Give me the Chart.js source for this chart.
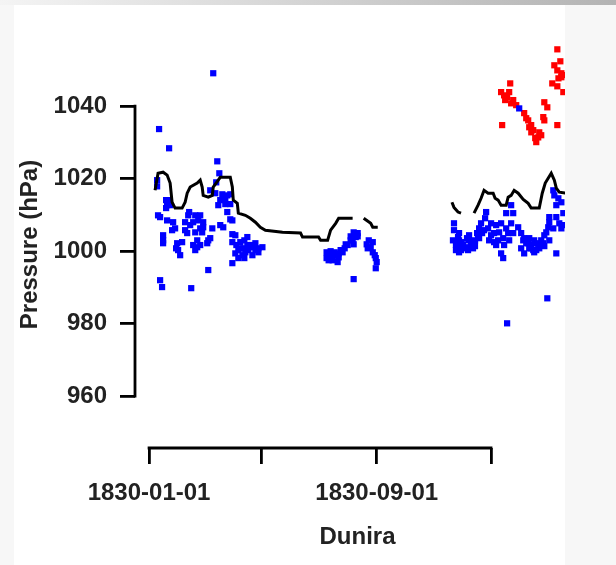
<!DOCTYPE html>
<html>
<head>
<meta charset="utf-8">
<script src="https://cdn.jsdelivr.net/npm/chart.js@4.4.1/dist/chart.umd.min.js"></script>
<style>
  html, body { margin: 0; padding: 0; width: 616px; height: 565px; overflow: hidden; background: #f7f7f7; }
  #topstrip { position: absolute; left: 0; top: 0; width: 616px; height: 5px; background: linear-gradient(to right, #f4f4f4, #b3b3b3); }
  #panel { position: absolute; left: 14px; top: 5px; width: 551px; height: 560px; background: #ffffff; }
  #c { position: absolute; left: 0; top: 0; }
</style>
</head>
<body>
<div id="topstrip"></div>
<div id="panel"></div>
<canvas id="c" width="616" height="565"></canvas>
<script>
// x values are days since 1830-01-01
const xTickDays = [0, 120, 243, 365];
const xTickLabels = ['1830-01-01', '1830-05-01', '1830-09-01', '1831-01-01'];
const yTicks = [960, 980, 1000, 1020, 1040];

// smoothed pressure (black line); null = gap
const lineDays = [6.4, 9.6, 15.0, 19.3, 22.5, 24.6, 27.8, 35.3, 38.5, 40.7, 43.9, 51.4, 54.6, 56.7, 57.8, 63.2, 67.5, 68.5, 76.0, 86.7, 88.9, 89.9, 94.2, 95.3, 102.8, 108.1, 113.5, 118.8, 124.2, 142.4, 161.7, 163.8, 180.9, 183.1, 190.6, 193.8, 199.2, 202.4, 217.3, 220, 229.1, 236.6, 238.8, 244.1, 280,
  323.3, 325.5, 329.8, 333.0, 340, 346.9, 351.2, 354.4, 357.6, 361.9, 367.3, 369.4, 372.6, 375.8, 381.2, 383.3, 386.5, 389.7, 394.0, 399.4, 404.7, 407.9, 416.5, 419.7, 422.9, 429.3, 432.6, 434.7, 437.9, 445.4];
const lineHpa = [1016.8, 1021.5, 1021.8, 1021.0, 1018.8, 1013.5, 1011.9, 1011.9, 1013.5, 1016.0, 1017.7, 1018.8, 1019.6, 1017.7, 1015.4, 1014.9, 1015.4, 1017.7, 1020.4, 1020.4, 1017.7, 1014.1, 1013.2, 1010.5, 1009.9, 1009.1, 1008.0, 1006.6, 1005.8, 1005.2, 1005.0, 1003.9, 1003.9, 1003.0, 1003.0, 1005.8, 1007.7, 1009.1, 1009.1, null, 1009.1, 1007.7, 1006.6, 1006.6, null,
  1013.5, 1012.1, 1010.8, 1010.5, null, 1010.5, 1012.7, 1014.6, 1016.8, 1016.0, 1016.0, 1014.6, 1014.1, 1012.7, 1012.7, 1014.9, 1015.4, 1016.8, 1016.0, 1014.3, 1013.2, 1011.9, 1011.9, 1016.0, 1018.8, 1021.5, 1019.6, 1017.4, 1016.3, 1016.0];

// observations (blue)
const blueDays = [68.5, 10.7, 21.4, 72.8, 75.0, 71.7, 8.6, 8.6, 65.3, 70.7, 78.2, 83.5, 86.7, 21.4, 19.3, 73.9, 81.4, 86.7, 83.5, 42.8, 11.8, 19.3, 25.7, 41.8, 49.3, 54.6, 57.8, 86.7, 38.5, 57.8, 67.5, 76.0, 79.2, 24.6, 38.5, 40.7, 56.7, 15.0, 15.0, 15.0, 30.0, 35.3, 51.4, 63.2, 47.1, 51.4, 31.0, 62.1, 88.9, 92.1, 88.9, 97.4, 104.9, 104.9, 100.6, 111.4, 116.7, 110.3, 92.1, 95.3, 88.9, 63.2, 11.8, 13.9, 45.0, 88.9,
  18.2, 22.5, 18.2, 27.8, 9.6, 28.9, 33.2, 47.1, 52.5, 54.6, 49.3, 43.9, 54.6, 49.3, 65.3, 76.0, 81.4, 97.4, 102.8, 108.1, 113.5, 95.3, 93.2, 101.7, 113.5, 121.0, 99.6,
  106.0, 116.7, 110.3, 101.7,
  218.4, 217.3, 220.6, 212.0, 206.6, 202.4, 191.7, 196.0, 191.7, 201.3, 234.5, 233.4, 238.8, 242.0, 242.0, 218.4, 198.1,
  189.5, 193.8, 199.2, 204.5, 208.8, 215.2, 222.7, 232.3, 236.6, 240.9, 243.0, 238.8,
  189.5, 195.9, 202.4, 193.8, 209.9, 215.2, 222.7, 218.4,
  325.5, 325.5, 329.8, 333.0, 335.1, 341.6, 341.6, 351.2, 352.3, 354.4, 359.8, 365.1, 368.3, 372.6, 375.8, 379.0, 375.8, 381.2, 386.5, 388.7, 386.5, 394.0, 383.3, 388.7, 397.2, 400.4, 405.8, 411.1, 404.7, 415.4, 420.8, 413.3, 421.9, 426.1, 427.2, 434.7, 431.5, 436.9, 440.1, 442.2, 437.9, 440.1, 400.4, 434.7, 378.0, 425.1, 382.2, 395.1, 327.6, 343.7, 330.9, 347.9, 397.2, 407.9,
  327.6, 333.0, 338.3, 343.7, 348.0, 330.9, 339.4, 352.3, 345.8, 355.5, 358.7, 361.9, 365.1, 370.5, 373.7, 378.0, 370.5, 363.0, 357.6, 402.6, 407.9, 413.3, 418.6, 424.0, 410.1, 416.5, 399.4, 432.6, 434.7, 442.2, 427.2, 431.5,
  324.4, 328.7, 335.1, 340.5, 346.9, 330.9, 350.2, 368.3, 381.2, 384.4, 405.8, 411.1, 421.9, 427.2];
const blueHpa = [1049.1, 1033.7, 1028.4, 1024.8, 1021.5, 1019.0, 1019.6, 1017.9, 1016.8, 1016.0, 1015.7, 1015.4, 1015.7, 1014.1, 1012.7, 1012.7, 1013.0, 1013.0, 1010.8, 1010.8, 1009.4, 1008.5, 1008.0, 1009.9, 1009.9, 1009.9, 1008.0, 1008.8, 1008.0, 1006.6, 1006.3, 1007.2, 1006.6, 1005.8, 1005.8, 1005.0, 1005.2, 1004.4, 1003.0, 1002.2, 1002.2, 1002.5, 1003.0, 1003.0, 1001.7, 1001.1, 1000.3, 1002.2, 1004.7, 1004.4, 1002.5, 1002.5, 1003.9, 1001.7, 1000.8, 1001.1, 1000.8, 1001.7, 999.4, 998.1, 996.7, 994.8, 992.0, 990.1, 989.8, 1008.5,
  1014.1, 1012.7, 1011.9, 1006.3, 1009.9, 1000.8, 998.9, 1008.0, 1008.5, 1006.3, 1005.2, 1007.2, 1001.7, 1000.3, 1003.6, 1014.1, 1014.1, 1000.8, 999.7, 1001.7, 1000.3, 1000.3, 1001.7, 1003.0, 1002.2, 1001.1, 998.9,
  1000.3, 999.7, 998.9, 998.1,
  1005.2, 1003.0, 1003.9, 1001.7, 999.7, 998.3, 998.9, 997.5, 997.5, 997.0, 1003.0, 1000.8, 999.7, 998.1, 995.3, 992.3, 999.7,
  999.7, 998.9, 998.9, 1000.3, 1000.8, 1004.1, 1005.0, 1001.9, 1001.1, 998.9, 997.0, 1002.5,
  998.1, 998.3, 999.4, 1000.0, 1001.9, 1003.0, 1004.1, 1001.9,
  1007.7, 1005.8, 1003.9, 1002.5, 1000.8, 1004.4, 1003.0, 1003.9, 1006.3, 1007.7, 1010.8, 1007.7, 1005.0, 1003.0, 1007.7, 1001.7, 999.4, 1010.5, 1012.7, 1010.5, 1007.7, 1006.6, 1005.0, 1005.0, 1005.0, 1003.6, 1003.6, 1003.0, 1002.2, 1001.7, 1002.2, 1000.3, 1004.4, 1006.6, 1009.4, 1009.4, 1016.8, 1014.6, 1013.5, 1010.5, 1007.7, 1006.3, 999.4, 999.4, 998.1, 987.0, 980.1, 1039.4, 1001.7, 1001.7, 999.7, 1001.4, 1000.8, 1000.8,
  1000.3, 1000.3, 1001.1, 1002.5, 1003.0, 1003.0, 1003.6, 1003.6, 1000.8, 1005.0, 1009.1, 1006.3, 1004.4, 1007.2, 1005.2, 1003.6, 1001.7, 1003.0, 1005.8, 1002.2, 1001.7, 1002.2, 1003.0, 1005.2, 1000.3, 1000.8, 1003.0, 1015.4, 1012.7, 1007.2, 1008.0, 1006.3,
  1003.0, 1001.1, 1001.9, 1000.3, 1001.9, 1005.0, 1005.0, 1002.5, 1006.3, 1003.0, 1000.8, 999.7, 1001.4, 1003.0];

// observations (red)
const redDays = [435.8, 432.6, 439.0, 440.1, 440.1, 430.4, 435.8, 442.2, 385.5, 375.8, 384.4, 380.1, 388.7, 391.9, 421.9, 425.1, 420.8, 421.9, 400.4, 404.7, 405.8, 376.9, 408.0, 416.5, 415.4, 413.3, 435.8,
  379.0, 382.2, 386.5, 402.6, 407.9, 410.1, 412.2, 418.6, 435.8, 442.2, 437.0];
const redHpa = [1055.7, 1051.3, 1052.4, 1049.1, 1048.0, 1046.3, 1045.5, 1043.9, 1046.3, 1043.9, 1043.9, 1041.7, 1041.7, 1040.3, 1041.1, 1039.7, 1037.0, 1036.1, 1038.1, 1036.1, 1034.2, 1034.8, 1032.8, 1032.8, 1031.4, 1030.1, 1034.8,
  1043.0, 1042.5, 1040.8, 1036.7, 1034.8, 1033.4, 1031.2, 1032.0, 1049.9, 1048.6, 1047.7];

const toXY = (xs, ys) => xs.map((x, i) => ({ x: x, y: ys[i] }));

const rAxes = {
  id: 'rAxes',
  afterDraw(chart) {
    const { ctx, chartArea, scales } = chart;
    const x = scales.x, y = scales.y;
    ctx.save();
    ctx.strokeStyle = '#000';
    ctx.lineWidth = 2.8;
    ctx.lineCap = 'square';
    ctx.beginPath();
    ctx.moveTo(x.getPixelForValue(xTickDays[0]), chartArea.bottom);
    ctx.lineTo(x.getPixelForValue(xTickDays[xTickDays.length - 1]), chartArea.bottom);
    ctx.moveTo(chartArea.left, y.getPixelForValue(yTicks[0]));
    ctx.lineTo(chartArea.left, y.getPixelForValue(yTicks[yTicks.length - 1]));
    ctx.stroke();
    ctx.restore();
  }
};

Chart.defaults.font.family = '"Liberation Sans", Arial, Helvetica, sans-serif';
Chart.defaults.font.size = 24;
Chart.defaults.font.weight = 'bold';
Chart.defaults.color = '#222222';

const clipBox = { left: 0, top: 0, right: -15, bottom: 0 };

new Chart(document.getElementById('c'), {
  type: 'scatter',
  data: {
    datasets: [
      {
        label: 'smoothed',
        data: toXY(lineDays, lineHpa),
        showLine: true,
        spanGaps: false,
        borderColor: '#000000',
        borderWidth: 3,
        pointRadius: 0,
        tension: 0,
        clip: clipBox
      },
      {
        label: 'obs',
        data: toXY(blueDays, blueHpa),
        pointStyle: 'rect',
        pointRadius: 4.4,
        borderWidth: 0,
        backgroundColor: '#0000ff',
        clip: clipBox
      },
      {
        label: 'obs2',
        data: toXY(redDays, redHpa),
        pointStyle: 'rect',
        pointRadius: 4.4,
        borderWidth: 0,
        backgroundColor: '#ff0000',
        clip: clipBox
      }
    ]
  },
  options: {
    responsive: false,
    devicePixelRatio: 1,
    animation: false,
    layout: { padding: { top: 41, right: 36, left: 0, bottom: 0 } },
    plugins: { legend: { display: false }, tooltip: { enabled: false } },
    scales: {
      x: {
        type: 'linear',
        min: -15,
        max: 460,
        afterBuildTicks: (s) => { s.ticks = xTickDays.map(v => ({ value: v })); },
        afterFit: (s) => { s.height = 117; },
        border: { display: false },
        grid: { drawOnChartArea: false, drawTicks: true, tickLength: 16, color: '#000', lineWidth: 2.8 },
        ticks: {
          autoSkip: false,
          maxRotation: 0,
          padding: 15,
          callback: (v, i) => (i % 2 === 0 ? xTickLabels[i] : '')
        },
        title: { display: true, text: 'Dunira', padding: { top: 0, bottom: 13 } }
      },
      y: {
        type: 'linear',
        min: 945.7,
        max: 1058,
        afterBuildTicks: (s) => { s.ticks = yTicks.map(v => ({ value: v })); },
        afterFit: (s) => { s.width = 135; },
        border: { display: false },
        grid: { drawOnChartArea: false, drawTicks: true, tickLength: 15, color: '#000', lineWidth: 2.8 },
        ticks: { autoSkip: false, padding: 13, callback: (v) => String(v) },
        title: { display: true, text: 'Pressure (hPa)', padding: { top: 16, bottom: 0 } }
      }
    }
  },
  plugins: [rAxes]
});
</script>
</body>
</html>
